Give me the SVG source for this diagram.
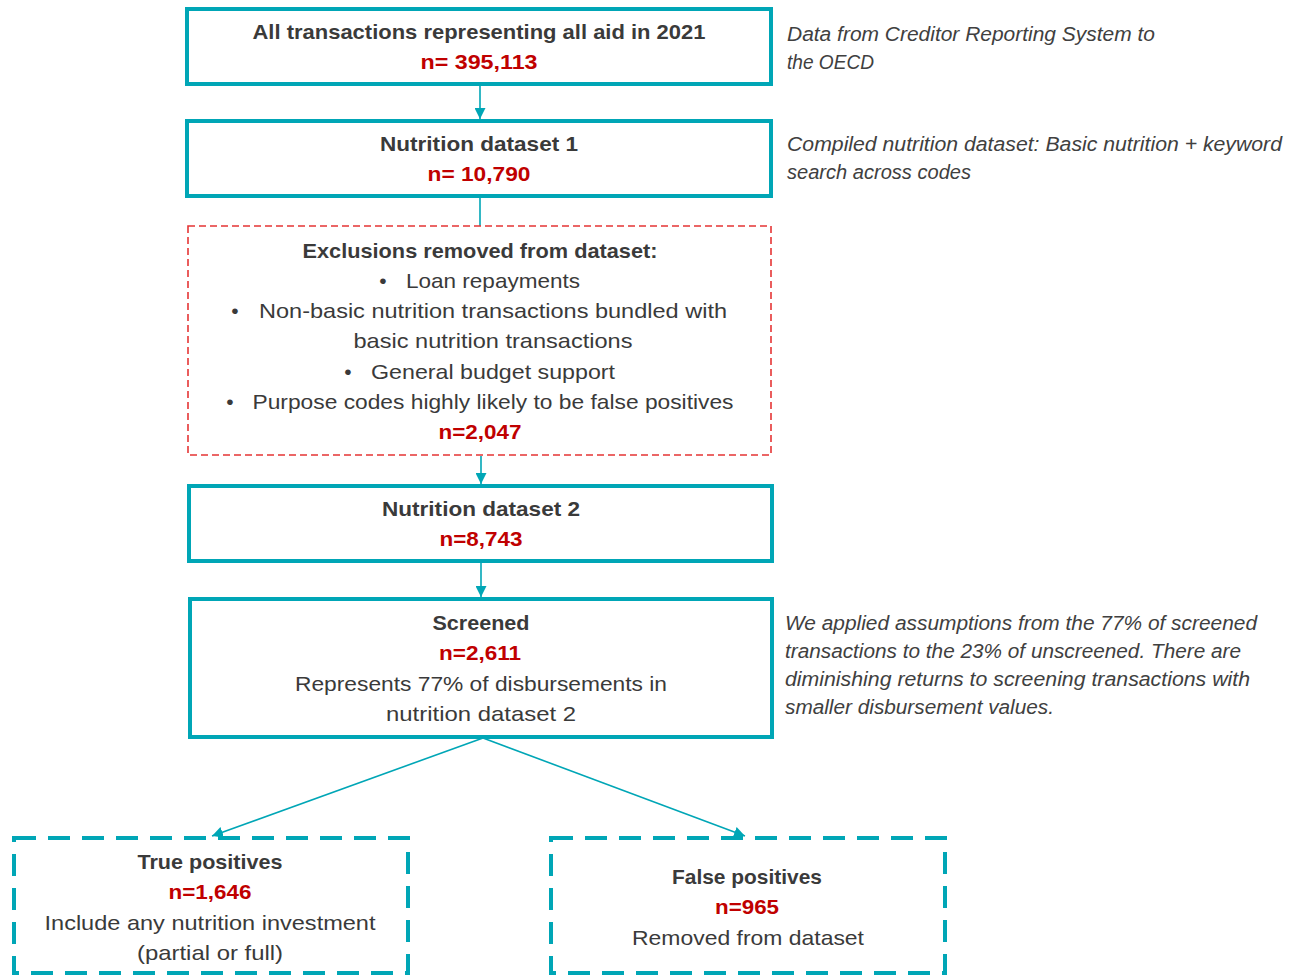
<svg xmlns="http://www.w3.org/2000/svg" width="1298" height="976" viewBox="0 0 1298 976">
<style>
.box{fill:#fff;stroke:#00A6B6;stroke-width:4}
.dbox{fill:#fff;stroke:#00A6B6;stroke-width:4;stroke-dasharray:22 12}
.rbox{fill:#fff;stroke:#E53535;stroke-width:1.6;stroke-dasharray:7 4}
.con{stroke:#00A6B6;stroke-width:1.6;fill:none}
text{font-family:"Liberation Sans",Arial,sans-serif;font-size:21px;fill:#3A3A3A;text-anchor:middle}
.b{font-weight:bold}
.n{font-weight:bold;fill:#C00000}
.note{font-style:italic;text-anchor:start;fill:#404040;font-size:20px}
.bul{text-anchor:middle}
</style>
<defs>
<marker id="ah" viewBox="0 0 10 10" refX="10" refY="5" markerWidth="11" markerHeight="11" markerUnits="userSpaceOnUse" orient="auto">
<path d="M0,0 L10,5 L0,10 z" fill="#00A6B6"/>
</marker>
</defs>
<rect width="1298" height="976" fill="#fff"/>
<g id="connectors">
<line class="con" x1="480" y1="85" x2="480" y2="119" marker-end="url(#ah)"/>
<line class="con" x1="480" y1="197" x2="480" y2="226"/>
<line class="con" x1="481" y1="456" x2="481" y2="484" marker-end="url(#ah)"/>
<line class="con" x1="481" y1="562" x2="481" y2="597" marker-end="url(#ah)"/>
<line class="con" x1="483" y1="738" x2="212" y2="836" marker-end="url(#ah)"/>
<line class="con" x1="483" y1="738" x2="745" y2="836" marker-end="url(#ah)"/>
</g>
<g id="node-all">
<rect class="box" x="187" y="9" width="584" height="75"/>
<text class="b" x="479" y="39" textLength="453" lengthAdjust="spacingAndGlyphs">All transactions representing all aid in 2021</text>
<text class="n" x="479" y="69" textLength="117" lengthAdjust="spacingAndGlyphs">n= 395,113</text>
</g>
<g id="node-ds1">
<rect class="box" x="187" y="121" width="584" height="75"/>
<text class="b" x="479" y="151" textLength="198" lengthAdjust="spacingAndGlyphs">Nutrition dataset 1</text>
<text class="n" x="479" y="181" textLength="103" lengthAdjust="spacingAndGlyphs">n= 10,790</text>
</g>
<g id="node-excl">
<rect class="rbox" x="188" y="226" width="583" height="229"/>
<text class="b" x="480" y="258" textLength="355" lengthAdjust="spacingAndGlyphs">Exclusions removed from dataset:</text>
<text class="bul" x="383" y="288">•</text>
<text x="493" y="288" textLength="174" lengthAdjust="spacingAndGlyphs">Loan repayments</text>
<text class="bul" x="235" y="318">•</text>
<text x="493" y="318" textLength="468" lengthAdjust="spacingAndGlyphs">Non-basic nutrition transactions bundled with</text>
<text x="493" y="348" textLength="279" lengthAdjust="spacingAndGlyphs">basic nutrition transactions</text>
<text class="bul" x="348" y="379">•</text>
<text x="493" y="379" textLength="244" lengthAdjust="spacingAndGlyphs">General budget support</text>
<text class="bul" x="230" y="409">•</text>
<text x="493" y="409" textLength="481" lengthAdjust="spacingAndGlyphs">Purpose codes highly likely to be false positives</text>
<text class="n" x="480" y="439" textLength="83" lengthAdjust="spacingAndGlyphs">n=2,047</text>
</g>
<g id="node-ds2">
<rect class="box" x="189" y="486" width="583" height="75"/>
<text class="b" x="481" y="516" textLength="198" lengthAdjust="spacingAndGlyphs">Nutrition dataset 2</text>
<text class="n" x="481" y="546" textLength="83" lengthAdjust="spacingAndGlyphs">n=8,743</text>
</g>
<g id="node-screened">
<rect class="box" x="190" y="599" width="582" height="138"/>
<text class="b" x="481" y="630" textLength="97" lengthAdjust="spacingAndGlyphs">Screened</text>
<text class="n" x="480" y="660" textLength="82" lengthAdjust="spacingAndGlyphs">n=2,611</text>
<text x="481" y="691" textLength="372" lengthAdjust="spacingAndGlyphs">Represents 77% of disbursements in</text>
<text x="481" y="721" textLength="190" lengthAdjust="spacingAndGlyphs">nutrition dataset 2</text>
</g>
<g id="node-true">
<rect class="dbox" x="14" y="838" width="394" height="135"/>
<text class="b" x="210" y="869" textLength="145" lengthAdjust="spacingAndGlyphs">True positives</text>
<text class="n" x="210" y="899" textLength="83" lengthAdjust="spacingAndGlyphs">n=1,646</text>
<text x="210" y="930" textLength="331" lengthAdjust="spacingAndGlyphs">Include any nutrition investment</text>
<text x="210" y="960" textLength="146" lengthAdjust="spacingAndGlyphs">(partial or full)</text>
</g>
<g id="node-false">
<rect class="dbox" x="551" y="838" width="394" height="135"/>
<text class="b" x="747" y="884" textLength="150" lengthAdjust="spacingAndGlyphs">False positives</text>
<text class="n" x="747" y="914" textLength="64" lengthAdjust="spacingAndGlyphs">n=965</text>
<text x="748" y="945" textLength="232" lengthAdjust="spacingAndGlyphs">Removed from dataset</text>
</g>
<g id="notes">
<text class="note" x="787" y="41" textLength="368" lengthAdjust="spacingAndGlyphs">Data from Creditor Reporting System to</text>
<text class="note" x="787" y="69" textLength="87" lengthAdjust="spacingAndGlyphs">the OECD</text>
<text class="note" x="787" y="151" textLength="495" lengthAdjust="spacingAndGlyphs">Compiled nutrition dataset: Basic nutrition + keyword</text>
<text class="note" x="787" y="179" textLength="184" lengthAdjust="spacingAndGlyphs">search across codes</text>
<text class="note" x="785" y="630" textLength="472" lengthAdjust="spacingAndGlyphs">We applied assumptions from the 77% of screened</text>
<text class="note" x="785" y="658" textLength="456" lengthAdjust="spacingAndGlyphs">transactions to the 23% of unscreened. There are</text>
<text class="note" x="785" y="686" textLength="465" lengthAdjust="spacingAndGlyphs">diminishing returns to screening transactions with</text>
<text class="note" x="785" y="714" textLength="269" lengthAdjust="spacingAndGlyphs">smaller disbursement values.</text>
</g>
</svg>
